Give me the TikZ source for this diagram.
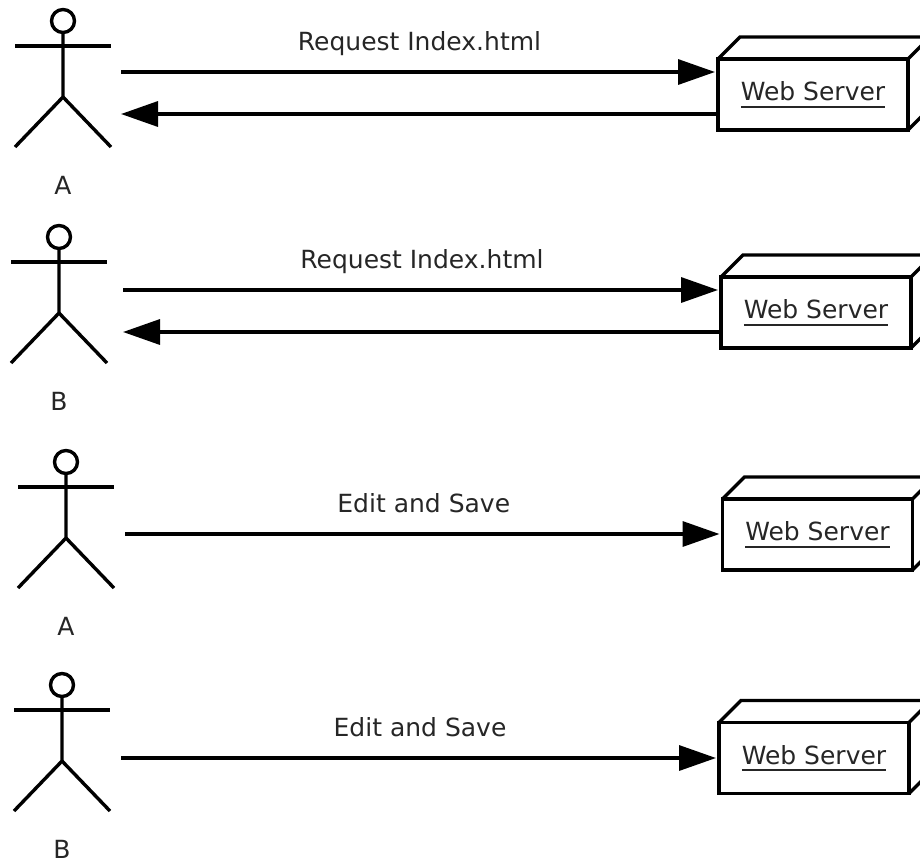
\documentclass[tikz,border=0pt]{standalone}
\usepackage{fontspec}
\setmainfont{DejaVu Sans}
\usetikzlibrary{arrows.meta}

\newcommand{\ulabel}[1]{\setbox0\hbox{#1}\rlap{\box0}\setbox0\hbox{#1}\rule[-7pt]{\wd0}{2pt}}
\newcommand{\actor}[4]{%
\begin{scope}[shift={(#2,#3)}]
\draw[stick] (0,0) circle[radius=11.5];
\draw[stick] (-48,25) -- (48,25);
\draw[stick] (0,11.5) -- (0,76) -- (-48,126);
\draw[stick] (0,76) -- (48,126);
\node[who] (#1) at (0,164) {#4};
\end{scope}}
\newcommand{\boxdepth}[1]{%
\draw[faces] (#1.north west) -- ++(22,-22) -- ([shift={(22,-22)}]#1.north east)
  -- ([shift={(22,-22)}]#1.south east) -- (#1.south east);
\draw[faces] (#1.north east) -- ++(22,-22);}

\tikzset{
  stick/.style={line width=3.4pt},
  faces/.style={line width=3.4pt},
  who/.style={inner sep=0pt, text=black!85},
  server/.style={draw, line width=3.4pt, minimum width=190pt, minimum height=71pt,
    inner sep=0pt, outer sep=0pt, text=black!85},
  msg/.style={line width=3.4pt, -{Triangle[length=37pt,width=25pt]}, shorten >=3pt},
  say/.style={anchor=base, yshift=22pt, inner sep=0pt, text=black!85}
}

\begin{document}
\begin{tikzpicture}[x=1pt, y=-1pt, font=\fontsize{25}{30}\selectfont]
\useasboundingbox (0,0) rectangle (920,860);

\actor{userA1}{63}{21}{A}
\node[server] (ws1) at (813,94.5) {\ulabel{Web Server}};
\boxdepth{ws1}
\coordinate (outA1) at (121,72);
\coordinate (backA1) at (118,114);
\draw[msg] (outA1) -- (outA1 -| ws1.west) node[say, midway] {Request Index.html};
\draw[msg] (backA1 -| ws1.west) -- (backA1);

\actor{userB1}{59}{237}{B}
\node[server] (ws2) at (816,312.5) {\ulabel{Web Server}};
\boxdepth{ws2}
\coordinate (outB1) at (123,290);
\coordinate (backB1) at (120,332);
\draw[msg] (outB1) -- (outB1 -| ws2.west) node[say, midway] {Request Index.html};
\draw[msg] (backB1 -| ws2.west) -- (backB1);

\actor{userA2}{66}{462}{A}
\node[server] (ws3) at (817.5,534.5) {\ulabel{Web Server}};
\boxdepth{ws3}
\coordinate (outA2) at (125,534);
\draw[msg] (outA2) -- (outA2 -| ws3.west) node[say, midway] {Edit and Save};

\actor{userB2}{62}{685}{B}
\node[server] (ws4) at (814,758) {\ulabel{Web Server}};
\boxdepth{ws4}
\coordinate (outB2) at (121,758);
\draw[msg] (outB2) -- (outB2 -| ws4.west) node[say, midway] {Edit and Save};

\end{tikzpicture}
\end{document}
